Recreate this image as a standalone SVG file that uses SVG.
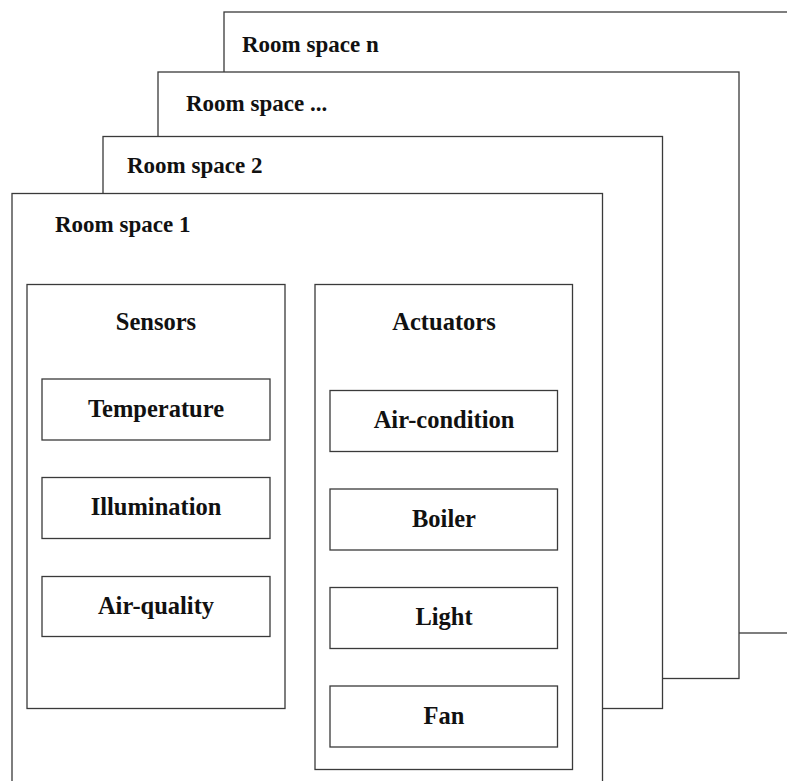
<svg xmlns="http://www.w3.org/2000/svg" width="787" height="781" viewBox="0 0 787 781">
  <style>
    .frame { fill: #ffffff; stroke: #3a3a3a; stroke-width: 1.3; }
    .box { fill: #ffffff; stroke: #3a3a3a; stroke-width: 1.3; }
    .title { font-family: "Liberation Serif", "Times New Roman", serif; font-weight: bold; font-size: 23px; fill: #111111; }
    .label { font-family: "Liberation Serif", "Times New Roman", serif; font-weight: bold; font-size: 24.5px; fill: #111111; text-anchor: middle; }
  </style>
  <rect width="787" height="781" fill="#ffffff"/>

  <!-- stacked room spaces, back to front -->
  <g id="room-n">
    <rect class="frame" x="224" y="12" width="600" height="621"/>
    <text class="title" x="242" y="51.5">Room space n</text>
  </g>
  <g id="room-etc">
    <rect class="frame" x="158" y="72" width="581" height="606.5"/>
    <text class="title" x="186" y="110.5">Room space ...</text>
  </g>
  <g id="room-2">
    <rect class="frame" x="103" y="136.5" width="559.5" height="572"/>
    <text class="title" x="127" y="172.5">Room space 2</text>
  </g>
  <g id="room-1">
    <rect class="frame" x="12" y="193.5" width="590.5" height="620"/>
    <text class="title" x="55" y="231.5">Room space 1</text>
  </g>

  <!-- sensor group -->
  <g id="sensors">
    <rect class="box" x="27" y="284.5" width="258" height="424"/>
    <text class="label" x="156" y="329.5">Sensors</text>
  </g>
  <g id="temperature">
    <rect class="box" x="42" y="379" width="228" height="61"/>
    <text class="label" x="156" y="416.5">Temperature</text>
  </g>
  <g id="illumination">
    <rect class="box" x="42" y="477.5" width="228" height="61"/>
    <text class="label" x="156" y="515">Illumination</text>
  </g>
  <g id="air-quality">
    <rect class="box" x="42" y="576.5" width="228" height="60"/>
    <text class="label" x="156" y="614">Air-quality</text>
  </g>

  <!-- actuator group -->
  <g id="actuators">
    <rect class="box" x="315" y="284.5" width="257.5" height="485"/>
    <text class="label" x="444" y="329.5">Actuators</text>
  </g>
  <g id="air-condition">
    <rect class="box" x="330" y="390.5" width="227.5" height="61"/>
    <text class="label" x="444" y="428">Air-condition</text>
  </g>
  <g id="boiler">
    <rect class="box" x="330" y="489" width="227.5" height="61"/>
    <text class="label" x="444" y="526.5">Boiler</text>
  </g>
  <g id="light">
    <rect class="box" x="330" y="587.5" width="227.5" height="61"/>
    <text class="label" x="444" y="625">Light</text>
  </g>
  <g id="fan">
    <rect class="box" x="330" y="686" width="227.5" height="61"/>
    <text class="label" x="444" y="723.5">Fan</text>
  </g>

  <g id="connectors"></g>
</svg>
